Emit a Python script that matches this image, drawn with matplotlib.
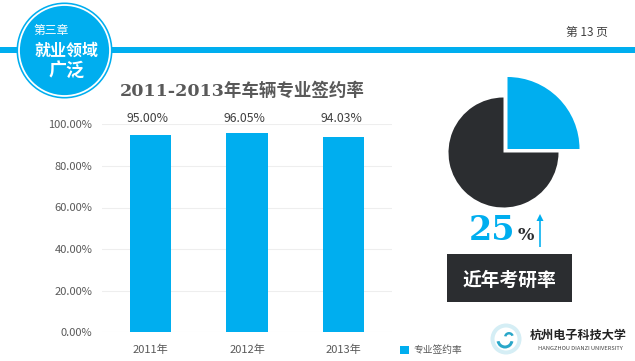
import matplotlib as mpl
mpl.use('Agg')
import matplotlib.pyplot as plt
from matplotlib.patches import Circle, Rectangle, Wedge, FancyArrow

plt.rcParams['font.family'] = ['Noto Sans CJK SC', 'DejaVu Sans']

years = ['2011年', '2012年', '2013年']
rates = [95.00, 96.05, 94.03]
rate_labels = ['95.00%', '96.05%', '94.03%']
y_ticks = [0, 20, 40, 60, 80, 100]
y_tick_labels = ['0.00%', '20.00%', '40.00%', '60.00%', '80.00%', '100.00%']
pie_share = [25, 75]

blue = '#00aeef'
dark = '#2b2d30'
grey = '#595959'
W, H = 635, 361

fig = plt.figure(figsize=(W/100, H/100), dpi=100, facecolor='white')

# bar chart, position given in pixels of the picture
ax = fig.add_axes([102/W, 1-332.3/H, 290/W, 208/H])
x = list(range(len(years)))
ax.bar(x, rates, width=0.43, color=blue, zorder=3)
ax.set_xlim(-0.5, 2.5)
ax.set_ylim(0, 100)
ax.set_yticks(y_ticks)
ax.set_yticklabels(y_tick_labels, fontsize=8, color=grey)
ax.set_xticks(x)
ax.set_xticklabels(years, fontsize=8, color=grey)
ax.tick_params(axis='y', length=0, pad=7)
ax.tick_params(axis='x', length=0, pad=9)
ax.grid(axis='y', color='#eeeeee', lw=0.8, zorder=0)
for s in ax.spines.values():
    s.set_visible(False)
ax.set_axisbelow(True)
for i, label in zip(x, rate_labels):
    ax.text(i - 0.025, 103, label, ha='center', va='center', fontsize=8.8,
            color='#404040', clip_on=False)

# everything else sits on a full figure overlay in pixel units
top = fig.add_axes([0, 0, 1, 1], zorder=5)
top.set_xlim(0, W)
top.set_ylim(0, H)
top.axis('off')
top.patch.set_alpha(0)

def py(v):
    return H - v

# header band and badge
top.add_patch(Rectangle((0, py(52.5)), W, 5.5, color=blue, lw=0))
top.add_patch(Circle((64.5, py(50.5)), 48, color=blue, lw=0))
top.add_patch(Circle((64.5, py(50.5)), 46.4, color='white', lw=0))
top.add_patch(Circle((64.5, py(50.5)), 44.6, color=blue, lw=0))
top.text(51, py(30), '第三章', color='white', fontsize=8.5, ha='center', va='center')
top.text(67, py(51), '就业领域', color='white', fontsize=11.5, weight='bold', ha='center', va='center')
top.text(67, py(71), '广泛', color='white', fontsize=13, weight='bold', ha='center', va='center')
top.text(587, py(32), '第 13 页', color='#404040', fontsize=8.5, ha='center', va='center')

# title
top.text(242, py(91), '2011-2013年车辆专业签约率', color=grey, fontsize=12.6, weight='bold',
         ha='center', va='center', family=['DejaVu Serif', 'Noto Sans CJK SC'])

# pie, the angles come from the two shares
blue_angle = 360 * pie_share[0] / sum(pie_share)
dark_angle = 360 * pie_share[1] / sum(pie_share)
top.add_patch(Wedge((503.5, py(152.5)), 55, 90, 90 + dark_angle, color=dark, lw=0))
top.add_patch(Wedge((507.5, py(149)), 72, 90 - blue_angle, 90, color=blue, lw=0))

# 25% with arrow
top.text(492, py(231), '25', color=blue, fontsize=24, weight='bold', ha='center', va='center',
         family='DejaVu Serif')
top.text(525.5, py(236), '%', color=dark, fontsize=12.5, weight='bold', ha='center', va='center',
         family='DejaVu Serif')
top.add_patch(FancyArrow(540, py(247), 0, 33, width=1.6, head_width=7, head_length=7,
                         length_includes_head=True, color=blue, lw=0))

# dark caption box
top.add_patch(Rectangle((447, py(302)), 124.5, 48, color=dark, lw=0))
top.text(509.5, py(280), '近年考研率', color='white', fontsize=13.5, weight='bold', ha='center', va='center')

# legend
top.add_patch(Rectangle((400, py(354)), 9, 8.5, color=blue, lw=0))
top.text(413, py(349.7), '专业签约率', color=grey, fontsize=7, ha='left', va='center')

# university logo
top.add_patch(Circle((506, py(339)), 15.5, color='#d5eef5', lw=0))
top.add_patch(Circle((506, py(339)), 11.5, color='white', lw=0))
top.add_patch(Wedge((505, py(340)), 8.5, 190, 350, width=3, color='#2aa7c9', lw=0))
top.add_patch(Wedge((509, py(337)), 5, 20, 170, width=2.5, color='#2aa7c9', lw=0))
top.text(578.5, py(335), '杭州电子科技大学', color='#222222', fontsize=8.7, weight='bold',
         ha='center', va='center')
top.text(580, py(349), 'HANGZHOU DIANZI UNIVERSITY', color='#444444', fontsize=4.1, ha='center', va='center')

fig.savefig('out.png', dpi=100)
